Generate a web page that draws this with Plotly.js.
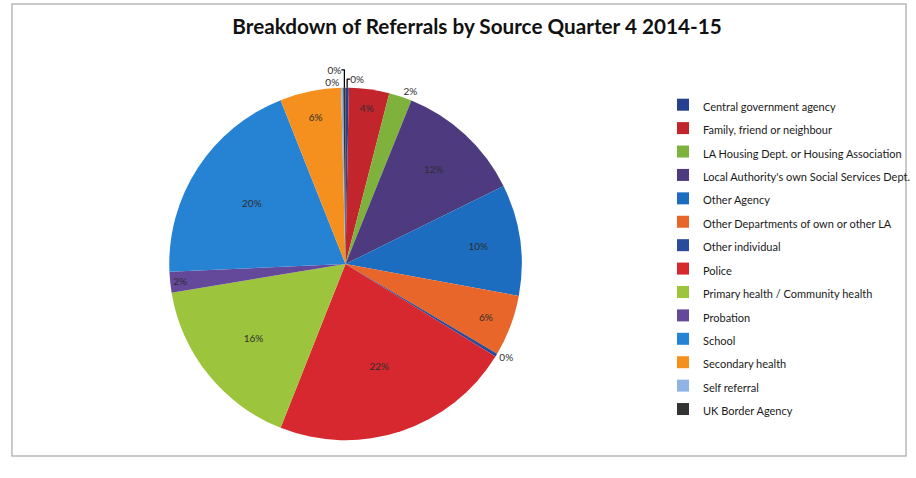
<!DOCTYPE html>
<html>
<head>
<meta charset="utf-8">
<script src="https://cdn.plot.ly/plotly-3.0.1.min.js"></script>
<style>html,body{margin:0;padding:0;background:#fff;}#chart{width:916px;height:478px;}</style>
</head>
<body>
<div id="chart"></div>
<script>
var categories = [
  "Central government agency",
  "Family, friend or neighbour",
  "LA Housing Dept. or Housing Association",
  "Local Authority's own Social Services Dept.",
  "Other Agency",
  "Other Departments of own or other LA",
  "Other individual",
  "Police",
  "Primary health / Community health",
  "Probation",
  "School",
  "Secondary health",
  "Self referral",
  "UK Border Agency"
];
var sharePct = [0.3, 3.7, 2.1, 11.6, 10.2, 5.6, 0.3, 22.2, 16.4, 1.9, 19.7, 5.6, 0.2, 0.2];
var sliceColors = ["#24408e", "#c3252d", "#7fb23c", "#4e3a7e", "#1c6cbf", "#e8662a", "#2a4a9a",
                   "#d6282e", "#9cc43c", "#64499a", "#2683d4", "#f5901f", "#8fb4e3", "#333333"];
var labelPositions = ["outside", "inside", "outside", "inside", "inside", "inside", "outside",
                      "inside", "inside", "inside", "inside", "inside", "outside", "outside"];
var chartTitle = "Breakdown of Referrals by Source Quarter 4 2014-15";

var legendLabels = categories.map(function (c) {
  return '<span style="font-size:11px">' + c + '</span>';
});
var labelColors = categories.map(function () { return "#2e2e2e"; });

var W = 916, H = 478;
var cx = 347, cy = 264, r = 177;

var trace = {
  type: "pie",
  labels: legendLabels,
  values: sharePct,
  sort: false,
  direction: "clockwise",
  rotation: 0,
  marker: {colors: sliceColors, line: {width: 0}},
  textinfo: "percent",
  texttemplate: "%{percent:.0%}",
  textposition: labelPositions,
  insidetextorientation: "horizontal",
  textfont: {family: "Lato, 'Open Sans', sans-serif", size: 10, color: labelColors},
  insidetextfont: {family: "Lato, 'Open Sans', sans-serif", size: 10, color: labelColors},
  outsidetextfont: {family: "Lato, 'Open Sans', sans-serif", size: 10, color: labelColors},
  domain: {x: [(cx - r) / W, (cx + r) / W], y: [1 - (cy + r) / H, 1 - (cy - r) / H]},
  automargin: false,
  hoverinfo: "label+percent"
};

var layout = {
  width: W, height: H,
  margin: {l: 0, r: 0, t: 0, b: 0},
  paper_bgcolor: "#ffffff",
  title: {
    text: "<b>" + chartTitle + "</b>",
    font: {family: "Lato, 'Open Sans', sans-serif", size: 20.7, color: "#111111"},
    x: 477 / W, xanchor: "center", y: 1 - 27 / H, yanchor: "middle"
  },
  showlegend: true,
  legend: {
    x: 666 / W, xanchor: "left",
    y: 1 - 88 / H, yanchor: "top",
    font: {family: "Lato, 'Open Sans', sans-serif", size: 15.7, color: "#1a1a1a"},
    bgcolor: "rgba(0,0,0,0)",
    itemclick: false
  },
  shapes: [{
    type: "rect", xref: "paper", yref: "paper",
    x0: 12 / W, x1: 910 / W, y0: 1 - 456 / H, y1: 1 - 4 / H,
    line: {color: "#b8b8b8", width: 1.5}, fillcolor: "rgba(0,0,0,0)"
  }]
};

Plotly.newPlot("chart", [trace], layout, {displayModeBar: false, staticPlot: true});
</script>
</body>
</html>
